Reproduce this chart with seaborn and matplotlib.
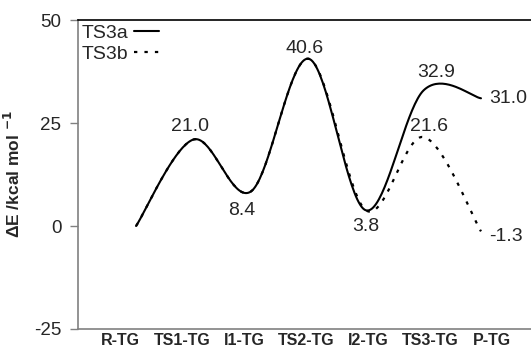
import numpy as np
import pandas as pd
import matplotlib
matplotlib.use("Agg")
import matplotlib.pyplot as plt
import seaborn as sns

# --- data ---
stages = ["R-TG", "TS1-TG", "I1-TG", "TS2-TG", "I2-TG", "TS3-TG", "P-TG"]
energy_ts3a = [0.0, 21.0, 8.4, 40.6, 3.8, 32.9, 31.0]
energy_ts3b = [0.0, 21.0, 8.4, 40.6, 3.8, 21.6, -1.3]
yticks = [-25, 0, 25, 50]

# label offsets in pixels (dx, dy) relative to each point
offs_a = [None, (-4, 13), (-9, -19), (-4, 10), (0, -16), (13, 18), (27, 0)]
offs_b = [None, None, None, None, None, (6, 11), (25, -5)]


def smooth(y, n=40):
    """Catmull-Rom curve through the points (like Excel's smoothed line)."""
    y = np.asarray(y, float)
    x = np.arange(len(y), dtype=float)
    px = np.concatenate([[x[0]], x, [x[-1]]])
    py = np.concatenate([[y[0]], y, [y[-1]]])
    xs, ys = [], []
    for i in range(1, len(px) - 2):
        t = np.linspace(0, 1, n, endpoint=False)
        for P, out in ((px, xs), (py, ys)):
            p0, p1, p2, p3 = P[i - 1], P[i], P[i + 1], P[i + 2]
            m1 = (p2 - p0) / 2
            m2 = (p3 - p1) / 2
            h00 = 2 * t**3 - 3 * t**2 + 1
            h10 = t**3 - 2 * t**2 + t
            h01 = -2 * t**3 + 3 * t**2
            h11 = t**3 - t**2
            out.extend(h00 * p1 + h10 * m1 + h01 * p2 + h11 * m2)
    xs.append(x[-1])
    ys.append(y[-1])
    return np.array(xs), np.array(ys)


sns.set_style("white")
plt.rcParams["font.family"] = ["Liberation Sans", "DejaVu Sans"]
plt.rcParams["axes.unicode_minus"] = False

fig = plt.figure(figsize=(5.31, 3.48), dpi=100)
ax = fig.add_axes([0.147, 0.0546, 0.853, 0.8879])

xa, ya = smooth(energy_ts3a)
xb, yb = smooth(energy_ts3b)
df = pd.concat([
    pd.DataFrame({"x": xb, "E": yb, "path": "TS3b"}),
    pd.DataFrame({"x": xa, "E": ya, "path": "TS3a"}),
])
sns.lineplot(data=df[df.path == "TS3b"], x="x", y="E", sort=False, ax=ax,
             color="black", lw=1.6, dashes=False, linestyle=(0, (1.5, 3.2)),
             label="TS3b")
sns.lineplot(data=df[df.path == "TS3a"], x="x", y="E", sort=False, ax=ax,
             color="black", lw=1.5, label="TS3a")

for i, v in enumerate(energy_ts3a):
    if offs_a[i] is not None:
        ax.annotate(f"{v:.1f}", (i, v), xytext=offs_a[i], textcoords="offset pixels",
                    ha="center", va="center", fontsize=14)
for i, v in enumerate(energy_ts3b):
    if offs_b[i] is not None:
        ax.annotate(f"{v:.1f}", (i, v), xytext=offs_b[i], textcoords="offset pixels",
                    ha="center", va="center", fontsize=14)

# category labels sit on their own grid, a bit offset from the curve points
tick_pos = [-0.278 + 1.078 * i for i in range(len(stages))]
ax.set_xticks(tick_pos)
ax.set_xticklabels(stages, fontsize=11.5, fontweight="bold")
ax.set_xlim(-1.009, 6.87)
ax.set_ylim(-25, 50)
ax.set_yticks(yticks)
ax.set_yticklabels([str(t) for t in yticks], fontsize=13.5)
ax.tick_params(axis="x", length=0, pad=3)
ax.tick_params(axis="y", length=6, width=1, color="#808080", pad=6, left=True)
ax.set_xlabel("")
ax.set_ylabel(r"ΔE /kcal mol $^{\mathbf{-1}}$", fontsize=12.5, fontweight="bold", labelpad=8)

for s in ["left", "bottom"]:
    ax.spines[s].set_color("#808080")
    ax.spines[s].set_linewidth(1.2)
ax.spines["top"].set_color("black")
ax.spines["top"].set_linewidth(1.2)
ax.spines["right"].set_visible(False)

h, l = ax.get_legend_handles_labels()
order = [l.index("TS3a"), l.index("TS3b")]
ax.legend([h[k] for k in order], [l[k] for k in order], loc="upper left",
          frameon=False, markerfirst=False, fontsize=14, handlelength=1.3,
          handletextpad=0.25, labelspacing=0.2, borderaxespad=0.1,
          borderpad=0.1)

fig.savefig("out.png", dpi=100)
